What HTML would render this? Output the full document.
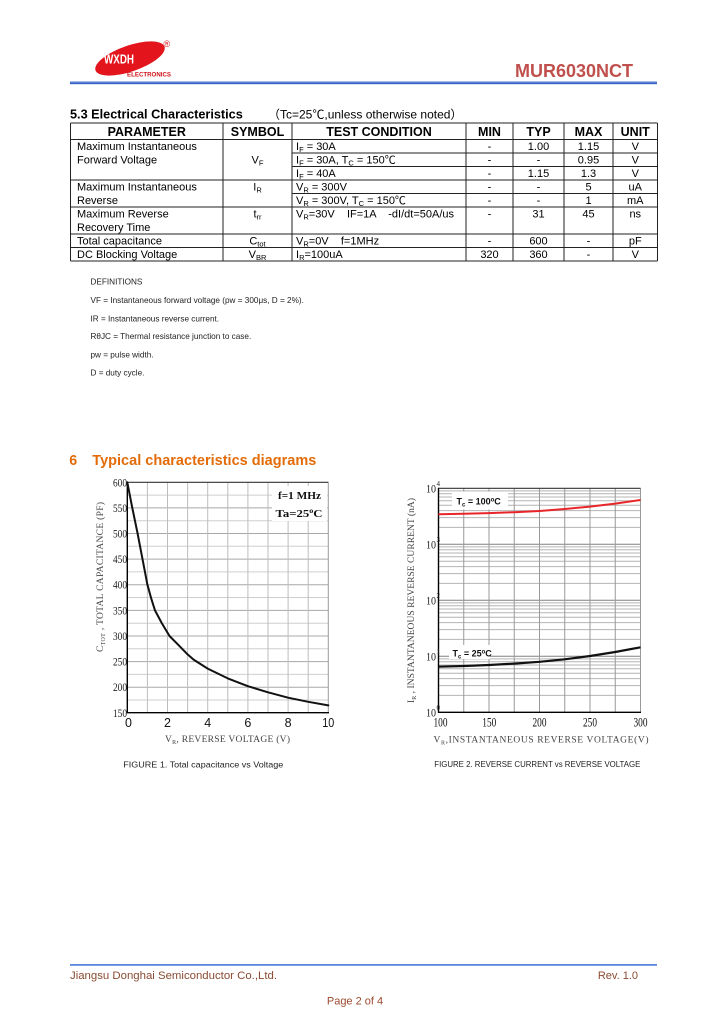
<!DOCTYPE html>
<html><head><meta charset="utf-8"><style>
html,body{margin:0;padding:0;background:#fff;}
svg{display:block;}
</style></head><body>
<svg width="724" height="1024" viewBox="0 0 724 1024" xmlns="http://www.w3.org/2000/svg" font-family="'Liberation Sans','Noto Sans CJK SC',sans-serif">
<rect width="724" height="1024" fill="#fff"/>

<!-- Header logo -->
<ellipse cx="130" cy="58.5" rx="36.5" ry="13" fill="#e3141b" transform="rotate(-19 130 58.5)"/>
<text x="104" y="63.5" font-size="13" font-weight="bold" fill="#fff" textLength="30" lengthAdjust="spacingAndGlyphs">WXDH</text>
<text x="127" y="76.5" font-size="6.5" font-weight="bold" fill="#d0121b" textLength="44" lengthAdjust="spacingAndGlyphs">ELECTRONICS</text>
<text x="163.5" y="47" font-size="9" fill="#d0121b">®</text>
<text x="515" y="77" font-size="18.5" font-weight="bold" fill="#c0504d" textLength="118" lengthAdjust="spacingAndGlyphs">MUR6030NCT</text>
<rect x="70" y="81" width="587" height="1.2" fill="#a9bdea"/>
<rect x="70" y="82.2" width="587" height="2" fill="#3b64c8"/>

<!-- Section 5.3 heading -->
<text x="70" y="118.5" font-size="12.7" font-weight="bold" fill="#000">5.3 Electrical Characteristics</text>
<text x="268" y="118.5" font-size="12" fill="#000">（Tc=25℃,unless otherwise noted）</text>

<!-- Table lines -->
<g stroke="#222" stroke-width="1" fill="none">
<path d="M70.5 123H657.5 M70.5 139.5H657.5 M70.5 180H657.5 M70.5 207H657.5 M70.5 234H657.5 M70.5 247.5H657.5 M70.5 261H657.5"/>
<path d="M292 153H657.5 M292 166.5H657.5 M292 193.5H657.5"/>
<path d="M70.5 123V261 M223 123V261 M292 123V261 M466 123V261 M513 123V261 M564 123V261 M613 123V261 M657.5 123V261"/>
</g>

<!-- Table header -->
<g font-size="12.5" font-weight="bold" text-anchor="middle" fill="#000">
<text x="146.75" y="135.8">PARAMETER</text>
<text x="257.5" y="135.8">SYMBOL</text>
<text x="379" y="135.8">TEST CONDITION</text>
<text x="489.5" y="135.8">MIN</text>
<text x="538.5" y="135.8">TYP</text>
<text x="588.5" y="135.8">MAX</text>
<text x="635.25" y="135.8">UNIT</text>
</g>

<!-- Table body -->
<g font-size="11" fill="#000">
<text x="77" y="150.1">Maximum Instantaneous</text>
<text x="77" y="163.6">Forward Voltage</text>
<text x="77" y="190.6">Maximum Instantaneous</text>
<text x="77" y="204.1">Reverse</text>
<text x="77" y="217.6">Maximum Reverse</text>
<text x="77" y="231.1">Recovery Time</text>
<text x="77" y="244.6">Total capacitance</text>
<text x="77" y="258.1">DC Blocking Voltage</text>

<g text-anchor="middle">
<text x="257.5" y="163.6">V<tspan font-size="7.5" dy="2">F</tspan></text>
<text x="257.5" y="190.6">I<tspan font-size="7.5" dy="2">R</tspan></text>
<text x="257.5" y="217.6">t<tspan font-size="7.5" dy="2">rr</tspan></text>
<text x="257.5" y="244.6">C<tspan font-size="7.5" dy="2">tot</tspan></text>
<text x="257.5" y="258.1">V<tspan font-size="7.5" dy="2">BR</tspan></text>
</g>

<text x="296" y="150.1">I<tspan font-size="7.5" dy="2">F</tspan><tspan dy="-2"> = 30A</tspan></text>
<text x="296" y="163.6">I<tspan font-size="7.5" dy="2">F</tspan><tspan dy="-2"> = 30A, T</tspan><tspan font-size="7.5" dy="2">C</tspan><tspan dy="-2"> = 150℃</tspan></text>
<text x="296" y="177.1">I<tspan font-size="7.5" dy="2">F</tspan><tspan dy="-2"> = 40A</tspan></text>
<text x="296" y="190.6">V<tspan font-size="7.5" dy="2">R</tspan><tspan dy="-2"> = 300V</tspan></text>
<text x="296" y="204.1">V<tspan font-size="7.5" dy="2">R</tspan><tspan dy="-2"> = 300V, T</tspan><tspan font-size="7.5" dy="2">C</tspan><tspan dy="-2"> = 150℃</tspan></text>
<text x="296" y="217.6" xml:space="preserve">V<tspan font-size="7.5" dy="2">R</tspan><tspan dy="-2">=30V    IF=1A    -dI/dt=50A/us</tspan></text>
<text x="296" y="244.6" xml:space="preserve">V<tspan font-size="7.5" dy="2">R</tspan><tspan dy="-2">=0V    f=1MHz</tspan></text>
<text x="296" y="258.1">I<tspan font-size="7.5" dy="2">R</tspan><tspan dy="-2">=100uA</tspan></text>

<g text-anchor="middle">
<text x="489.5" y="150.1">-</text><text x="538.5" y="150.1">1.00</text><text x="588.5" y="150.1">1.15</text><text x="635.25" y="150.1">V</text>
<text x="489.5" y="163.6">-</text><text x="538.5" y="163.6">-</text><text x="588.5" y="163.6">0.95</text><text x="635.25" y="163.6">V</text>
<text x="489.5" y="177.1">-</text><text x="538.5" y="177.1">1.15</text><text x="588.5" y="177.1">1.3</text><text x="635.25" y="177.1">V</text>
<text x="489.5" y="190.6">-</text><text x="538.5" y="190.6">-</text><text x="588.5" y="190.6">5</text><text x="635.25" y="190.6">uA</text>
<text x="489.5" y="204.1">-</text><text x="538.5" y="204.1">-</text><text x="588.5" y="204.1">1</text><text x="635.25" y="204.1">mA</text>
<text x="489.5" y="217.6">-</text><text x="538.5" y="217.6">31</text><text x="588.5" y="217.6">45</text><text x="635.25" y="217.6">ns</text>
<text x="489.5" y="244.6">-</text><text x="538.5" y="244.6">600</text><text x="588.5" y="244.6">-</text><text x="635.25" y="244.6">pF</text>
<text x="489.5" y="258.1">320</text><text x="538.5" y="258.1">360</text><text x="588.5" y="258.1">-</text><text x="635.25" y="258.1">V</text>
</g>
</g>

<!-- Definitions -->
<g font-size="8.2" fill="#222">
<text x="90.5" y="284.7">DEFINITIONS</text>
<text x="90.5" y="303">VF = Instantaneous forward voltage (pw = 300μs, D = 2%).</text>
<text x="90.5" y="321.3">IR = Instantaneous reverse current.</text>
<text x="90.5" y="339">RθJC = Thermal resistance junction to case.</text>
<text x="90.5" y="357.3">pw = pulse width.</text>
<text x="90.5" y="375.7">D = duty cycle.</text>
</g>

<!-- Section 6 heading -->
<text x="69.3" y="465" font-size="14.3" font-weight="bold" fill="#e36c09">6</text>
<text x="92.3" y="465" font-size="14.3" font-weight="bold" fill="#e36c09" textLength="224" lengthAdjust="spacingAndGlyphs">Typical characteristics diagrams</text>

<!-- ===== Chart 1 ===== -->
<g fill="none">
<path stroke="#cfcfcf" stroke-width="1" d="M127.3 495.1H328.3 M127.3 520.7H328.3 M127.3 546.3H328.3 M127.3 571.9H328.3 M127.3 597.5H328.3 M127.3 623.2H328.3 M127.3 648.8H328.3 M127.3 674.4H328.3 M127.3 700H328.3"/>
<path stroke="#a8a8a8" stroke-width="1" d="M127.3 507.9H328.3 M127.3 533.5H328.3 M127.3 559.1H328.3 M127.3 584.7H328.3 M127.3 610.4H328.3 M127.3 636H328.3 M127.3 661.6H328.3 M127.3 687.2H328.3"/>
<path stroke="#bdbdbd" stroke-width="1" d="M147.4 482.3V712.7 M167.5 482.3V712.7 M187.6 482.3V712.7 M207.7 482.3V712.7 M227.8 482.3V712.7 M247.9 482.3V712.7 M268 482.3V712.7 M288.1 482.3V712.7 M308.2 482.3V712.7"/>
<path stroke="#999" stroke-width="1" d="M328.3 482.3V712.7"/>
</g>
<rect x="272" y="486" width="55" height="35" fill="#fff"/>
<path d="M127.3 482.3H328.3" stroke="#333" stroke-width="1.2" fill="none"/>
<path d="M127.3 481.8V712.7H329" stroke="#000" stroke-width="1.4" fill="none"/>
<polyline fill="none" stroke="#111" stroke-width="2" stroke-linejoin="round" stroke-linecap="round"
points="127.3,482.3 132.3,507.9 137.4,532.5 142.4,558.6 147.4,584.7 151.4,599.1 155,610.4 161.5,622.6 169.5,636 179.6,646.2 187.6,654.4 193.6,659.6 207.7,668.6 227.8,678.4 247.9,686.2 268,692.3 288.1,697.7 308.2,701.8 328.3,705.4"/>
<g font-family="'Liberation Serif',serif" font-weight="bold" fill="#111">
<text x="278" y="499" font-size="10.5" textLength="43" lengthAdjust="spacingAndGlyphs">f=1 MHz</text>
<text x="275.5" y="517" font-size="11" textLength="47" lengthAdjust="spacingAndGlyphs">Ta=25<tspan font-size="7" dy="-4">o</tspan><tspan dy="4">C</tspan></text>
</g>
<g font-family="'Liberation Serif',serif" font-size="12" fill="#222" text-anchor="end">
<text x="127" y="486.3" textLength="14" lengthAdjust="spacingAndGlyphs">600</text>
<text x="127" y="511.9" textLength="14" lengthAdjust="spacingAndGlyphs">550</text>
<text x="127" y="537.5" textLength="14" lengthAdjust="spacingAndGlyphs">500</text>
<text x="127" y="563.1" textLength="14" lengthAdjust="spacingAndGlyphs">450</text>
<text x="127" y="588.7" textLength="14" lengthAdjust="spacingAndGlyphs">400</text>
<text x="127" y="614.4" textLength="14" lengthAdjust="spacingAndGlyphs">350</text>
<text x="127" y="640" textLength="14" lengthAdjust="spacingAndGlyphs">300</text>
<text x="127" y="665.6" textLength="14" lengthAdjust="spacingAndGlyphs">250</text>
<text x="127" y="691.2" textLength="14" lengthAdjust="spacingAndGlyphs">200</text>
<text x="127" y="716.8" textLength="14" lengthAdjust="spacingAndGlyphs">150</text>
</g>
<g font-size="12.5" fill="#111" text-anchor="middle">
<text x="128.5" y="727">0</text>
<text x="167.5" y="727">2</text>
<text x="207.7" y="727">4</text>
<text x="247.9" y="727">6</text>
<text x="288.1" y="727">8</text>
<text x="328.3" y="727" textLength="12" lengthAdjust="spacingAndGlyphs">10</text>
</g>
<text x="165" y="742" font-family="'Liberation Serif',serif" font-size="9.5" fill="#444" textLength="125" lengthAdjust="spacing">V<tspan font-size="6" dy="2">R</tspan><tspan dy="-2">, REVERSE VOLTAGE (V)</tspan></text>
<text transform="translate(103,577) rotate(-90)" text-anchor="middle" font-family="'Liberation Serif',serif" font-size="9.5" fill="#444" textLength="150" lengthAdjust="spacing">C<tspan font-size="6" dy="2">TOT</tspan><tspan dy="-2"> ,  TOTAL   CAPACITANCE (PF)</tspan></text>
<text x="123.3" y="767.5" font-size="8.5" fill="#222" textLength="160" lengthAdjust="spacingAndGlyphs">FIGURE 1. Total capacitance vs Voltage</text>

<!-- ===== Chart 2 ===== -->
<g fill="none" stroke-width="1">
<path stroke="#b4b4b4" d="M438.5 695.4H640.5 M438.5 685.6H640.5 M438.5 678.6H640.5 M438.5 673.2H640.5 M438.5 668.7H640.5 M438.5 665H640.5 M438.5 661.7H640.5 M438.5 658.9H640.5
M438.5 639.4H640.5 M438.5 629.6H640.5 M438.5 622.6H640.5 M438.5 617.2H640.5 M438.5 612.7H640.5 M438.5 609H640.5 M438.5 605.7H640.5 M438.5 602.9H640.5
M438.5 583.4H640.5 M438.5 573.6H640.5 M438.5 566.6H640.5 M438.5 561.2H640.5 M438.5 556.7H640.5 M438.5 553H640.5 M438.5 549.7H640.5 M438.5 546.9H640.5
M438.5 527.4H640.5 M438.5 517.6H640.5 M438.5 510.6H640.5 M438.5 505.2H640.5 M438.5 500.7H640.5 M438.5 497H640.5 M438.5 493.7H640.5 M438.5 490.9H640.5"/>
<path stroke="#808080" d="M438.5 544.3H640.5 M438.5 600.3H640.5 M438.5 656.3H640.5"/>
<path stroke="#999" d="M463.75 488.3V712.3 M489 488.3V712.3 M514.25 488.3V712.3 M539.5 488.3V712.3 M564.75 488.3V712.3 M590 488.3V712.3 M615.25 488.3V712.3 M640.5 488.3V712.3"/>
</g>
<rect x="452" y="491.5" width="56" height="18" fill="#fff"/>
<rect x="449" y="645" width="41" height="14" fill="#fff"/>
<path d="M438.5 488.3H640.5" stroke="#333" stroke-width="1.2" fill="none"/>
<path d="M438.5 487.8V712.3H641" stroke="#000" stroke-width="1.4" fill="none"/>
<polyline fill="none" stroke="#e8262a" stroke-width="2" stroke-linejoin="round"
points="438.5,514.3 463.75,513.8 489,513.1 514.25,512.2 539.5,511 564.75,509 590,506.6 615.25,503.6 640.5,500"/>
<polyline fill="none" stroke="#111" stroke-width="2.2" stroke-linejoin="round"
points="438.5,666.7 463.75,666 489,665 514.25,663.6 539.5,661.8 564.75,659.3 590,656 615.25,652 640.5,647.3"/>
<g font-size="9" font-weight="bold" fill="#111">
<text x="456.5" y="504.5">T<tspan font-size="6" dy="2">c</tspan><tspan dy="-2"> = 100</tspan><tspan font-size="6" dy="-3">o</tspan><tspan dy="3">C</tspan></text>
<text x="452.5" y="656.5">T<tspan font-size="6" dy="2">c</tspan><tspan dy="-2"> = 25</tspan><tspan font-size="6" dy="-3">o</tspan><tspan dy="3">C</tspan></text>
</g>
<g font-family="'Liberation Serif',serif" fill="#222">
<text x="426" y="492.3" font-size="12" textLength="10" lengthAdjust="spacingAndGlyphs">10</text><text x="436.5" y="486" font-size="7">4</text>
<text x="426" y="548.3" font-size="12" textLength="10" lengthAdjust="spacingAndGlyphs">10</text><text x="436.5" y="542" font-size="7">3</text>
<text x="426" y="604.3" font-size="12" textLength="10" lengthAdjust="spacingAndGlyphs">10</text><text x="436.5" y="598" font-size="7">2</text>
<text x="426" y="660.3" font-size="12" textLength="10" lengthAdjust="spacingAndGlyphs">10</text><text x="436.5" y="654" font-size="7">1</text>
<text x="426" y="716.3" font-size="12" textLength="10" lengthAdjust="spacingAndGlyphs">10</text><text x="436.5" y="710" font-size="7">0</text>
</g>
<g font-family="'Liberation Serif',serif" font-size="13" fill="#111" text-anchor="middle">
<text x="440.5" y="726.5" textLength="14" lengthAdjust="spacingAndGlyphs">100</text>
<text x="489.3" y="726.5" textLength="14" lengthAdjust="spacingAndGlyphs">150</text>
<text x="539.5" y="726.5" textLength="14" lengthAdjust="spacingAndGlyphs">200</text>
<text x="590" y="726.5" textLength="14" lengthAdjust="spacingAndGlyphs">250</text>
<text x="640.5" y="726.5" textLength="14" lengthAdjust="spacingAndGlyphs">300</text>
</g>
<text x="433.5" y="742.5" font-family="'Liberation Serif',serif" font-size="9.5" fill="#444" textLength="215" lengthAdjust="spacing">V<tspan font-size="6" dy="2">R</tspan><tspan dy="-2">,INSTANTANEOUS REVERSE VOLTAGE(V)</tspan></text>
<text transform="translate(414,600.5) rotate(-90)" text-anchor="middle" font-family="'Liberation Serif',serif" font-size="9.5" fill="#444" textLength="205" lengthAdjust="spacing">I<tspan font-size="6" dy="2">R</tspan><tspan dy="-2"> , INSTANTANEOUS REVERSE CURRENT (nA)</tspan></text>
<text x="434.3" y="767" font-size="8" fill="#222" textLength="206" lengthAdjust="spacingAndGlyphs">FIGURE 2. REVERSE CURRENT vs REVERSE VOLTAGE</text>

<!-- Footer -->
<rect x="70" y="964" width="587" height="1.8" fill="#5b85dc"/>
<text x="70" y="979" font-size="11" fill="#8a4b32" textLength="207" lengthAdjust="spacingAndGlyphs">Jiangsu Donghai Semiconductor Co.,Ltd.</text>
<text x="638" y="979" font-size="11" fill="#8a4b32" text-anchor="end">Rev. 1.0</text>
<text x="355" y="1004.5" font-size="11" fill="#9c4a2e" text-anchor="middle">Page 2 of 4</text>
</svg>
</body></html>
